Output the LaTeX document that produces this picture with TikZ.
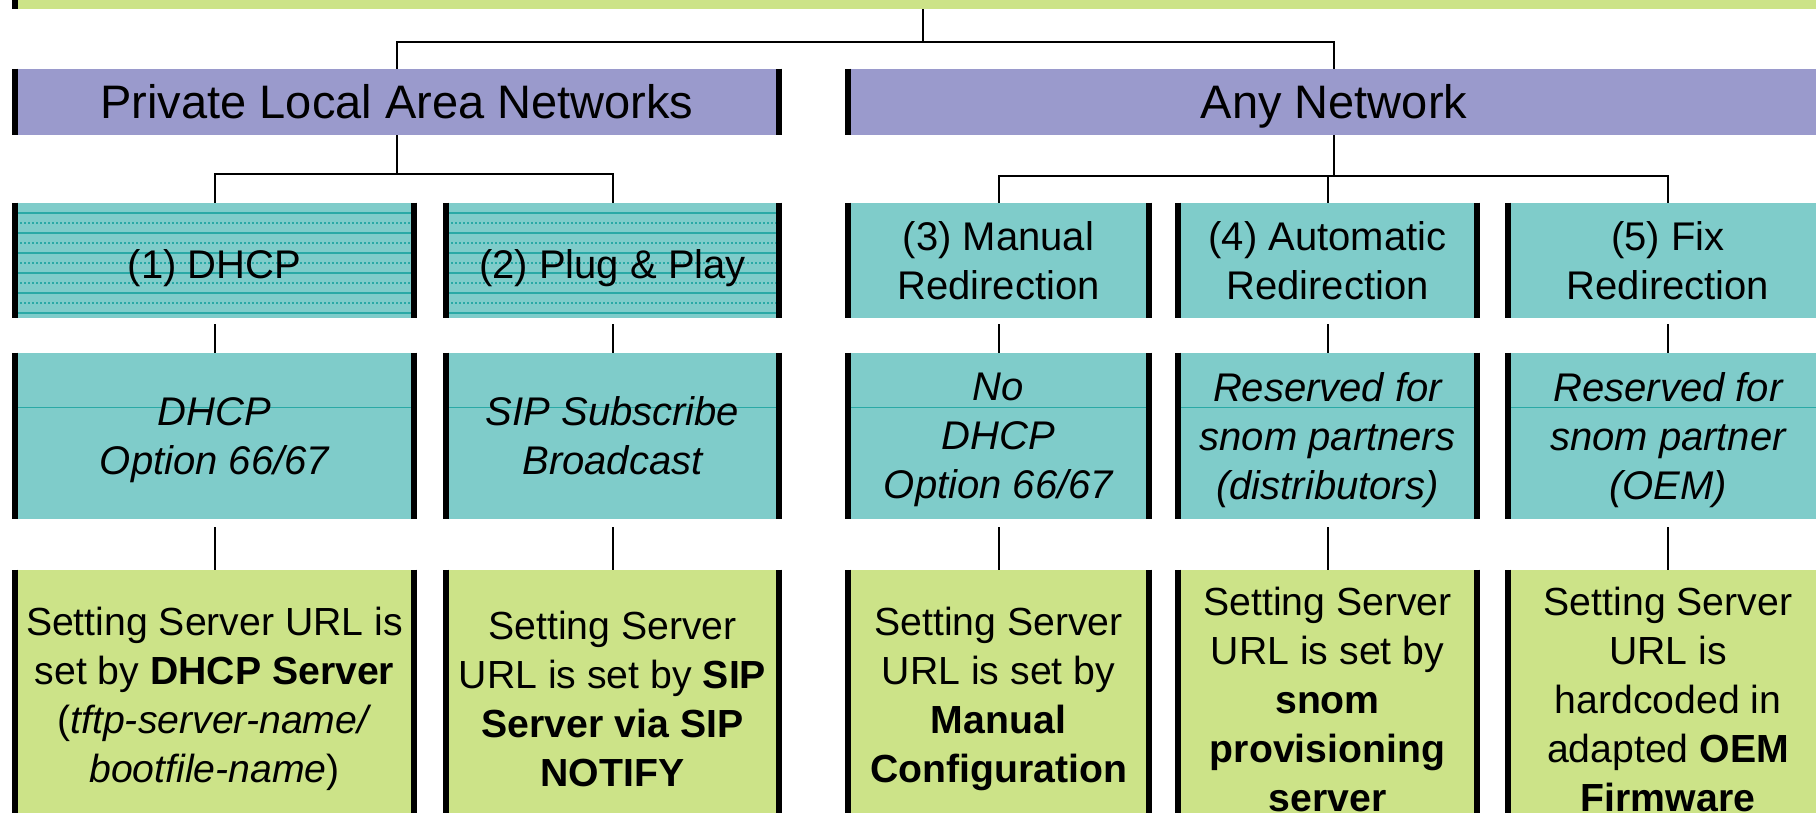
\documentclass[tikz,border=0pt]{standalone}
\usepackage{fontspec}
\setmainfont{Liberation Sans}
\definecolor{lime}{HTML}{CCE388}
\definecolor{lilac}{HTML}{9A9ACC}
\definecolor{aqua}{HTML}{7FCCCA}
\definecolor{aqualine}{HTML}{2AA9A6}
\tikzset{
  cell/.style={fill=#1, inner sep=0pt, align=center, font=\fontsize{20}{24.5}\selectfont},
  head/.style={cell=lilac, minimum height=33pt, text height=17pt, text depth=0pt, font=\fontsize{23.5}{28}\selectfont},
  way/.style={cell=aqua, minimum height=57.5pt},
  how/.style={cell=aqua, minimum height=83pt, text depth=-2pt, font=\fontsize{20}{24.5}\selectfont\itshape,
    path picture={\draw[aqualine, line width=0.5pt] ([yshift=-27pt]path picture bounding box.north west) -- ([yshift=-27pt]path picture bounding box.north east);}},
  res/.style={cell=lime, minimum height=129pt, font=\fontsize{19.6}{24.5}\selectfont},
  striped/.style={execute at begin node={\rule{0pt}{22pt}}, path picture={
    \foreach \k in {1,3,...,11} \draw[aqualine, line width=0.6pt] ([yshift=-\k*5pt]path picture bounding box.north west) -- ([yshift=-\k*5pt]path picture bounding box.north east);
    \foreach \k in {2,4,...,10} \draw[aqualine, line width=0.6pt, dash pattern=on 1pt off 1pt] ([yshift=-\k*5pt]path picture bounding box.north west) -- ([yshift=-\k*5pt]path picture bounding box.north east);}},
  wire/.style={line width=1pt},
  bar/.style={line width=3pt},
}

\begin{document}
\begin{tikzpicture}[x=0.5pt,y=-0.5pt]
\useasboundingbox (0,0) rectangle (1816,813);
\clip (0,0) rectangle (1816,813);

\node[cell=lime, minimum width=911pt, minimum height=49pt] (top) at (923,-40) {};
\node[head, minimum width=385pt] (lan) at (397,102) {Private Local Area Networks};
\node[head, minimum width=489pt] (anynet) at (1334,102) {Any Network};

\node[way, striped, minimum width=202.5pt] (dhcp) at (214.5,260.5) {(1) DHCP};
\node[way, striped, minimum width=169.5pt] (pnp) at (612.5,260.5) {(2) Plug \& Play};
\node[way, minimum width=153.5pt] (manual) at (998.5,260.5) {(3) Manual\\Redirection};
\node[way, minimum width=152.5pt] (auto) at (1327.5,260.5) {(4) Automatic\\Redirection};
\node[way, minimum width=163pt] (fix) at (1668,260.5) {(5) Fix\\Redirection};

\node[how, minimum width=202.5pt] (opt) at (214.5,436) {DHCP\\Option 66/67};
\node[how, minimum width=169.5pt] (sipsub) at (612.5,436) {SIP Subscribe\\Broadcast};
\node[how, minimum width=153.5pt] (nodhcp) at (998.5,436) {No\\DHCP\\Option 66/67};
\node[how, minimum width=152.5pt] (resdist) at (1327.5,436) {Reserved for\\snom partners\\(distributors)};
\node[how, minimum width=163pt] (resoem) at (1668,436) {Reserved for\\snom partner\\(OEM)};

\node[res, minimum width=202.5pt] (setdhcp) at (214.5,699) {Setting Server URL is\\set by \textbf{DHCP Server}\\(\textit{tftp-server-name/}\\\textit{bootfile-name})};
\node[res, minimum width=169.5pt] (setsip) at (612.5,699) {Setting Server\\URL is set by \textbf{SIP}\\\textbf{Server via SIP}\\\textbf{NOTIFY}};
\node[res, minimum width=153.5pt] (setman) at (998.5,699) {Setting Server\\URL is set by\\\textbf{Manual}\\\textbf{Configuration}};
\node[res, minimum width=152.5pt] (setprov) at (1327.5,699) {Setting Server\\URL is set by\\\textbf{snom}\\\textbf{provisioning}\\\textbf{server}};
\node[res, minimum width=163pt] (setoem) at (1668,699) {Setting Server\\URL is\\hardcoded in\\adapted \textbf{OEM}\\\textbf{Firmware}};

\foreach \n in {top,lan,anynet,dhcp,pnp,manual,auto,fix,opt,sipsub,nodhcp,resdist,resoem,setdhcp,setsip,setman,setprov,setoem}
  \draw[bar] ([xshift=1.5pt]\n.north west) -- ([xshift=1.5pt]\n.south west)
    ([xshift=-1.5pt]\n.north east) -- ([xshift=-1.5pt]\n.south east);

\coordinate (j0) at (923,42);
\coordinate (j1) at (397,174);
\coordinate (j2) at (1334,176);
\draw[wire] (top) -- (j0) -| (lan);
\draw[wire] (j0) -| (anynet);
\draw[wire] (lan) -- (j1) -| (dhcp);
\draw[wire] (j1) -| (pnp);
\draw[wire] (anynet) -- (j2) -| (manual);
\draw[wire] (j2) -| (auto);
\draw[wire] (j2) -| (fix);
\foreach \a/\b in {dhcp/opt,pnp/sipsub,manual/nodhcp,auto/resdist,fix/resoem}
  \draw[wire, shorten <=3pt] (\a) -- (\b);
\foreach \a/\b in {opt/setdhcp,sipsub/setsip,nodhcp/setman,resdist/setprov,resoem/setoem}
  \draw[wire, shorten <=4pt] (\a) -- (\b);
\end{tikzpicture}
\end{document}
